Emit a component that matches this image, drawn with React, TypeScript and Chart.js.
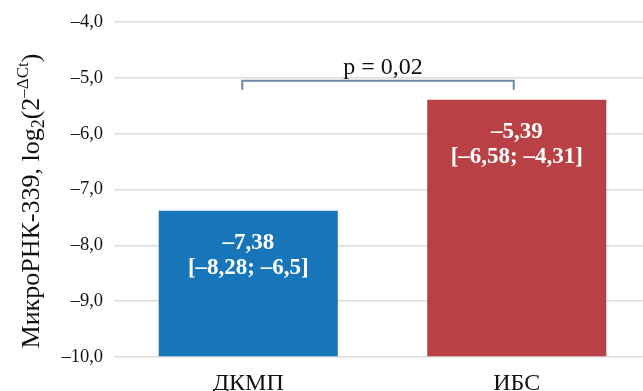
import React, { useEffect, useRef } from "react";
import { Chart, registerables } from "chart.js";

Chart.register(...registerables);

const categories = ["ДКМП", "ИБС"];
const medians = [-7.38, -5.39];
const lowerQ = ["–8,28", "–6,58"];
const upperQ = ["–6,5", "–4,31"];
const medianLabels = ["–7,38", "–5,39"];
const barColors = ["#1776b9", "#b94044"];
const yMin = -10;
const yMax = -4;
const pLabel = "p = 0,02";
const bracketTop = -5.05;
const bracketFoot = -5.21;

const SERIF = "'Liberation Serif', 'DejaVu Serif', serif";

const fmtTick = (v: number) => {
  const s = Math.abs(v).toFixed(1).replace(".", ",");
  return v < 0 ? "–" + s : s;
};

const annotations = {
  id: "annotations",
  afterDatasetsDraw(chart: any) {
    const { ctx, scales } = chart;
    const meta = chart.getDatasetMeta(0);
    const y = scales.y;
    ctx.save();
    // values inside bars
    ctx.fillStyle = "#ffffff";
    ctx.textAlign = "center";
    ctx.textBaseline = "middle";
    ctx.font = `bold 23px ${SERIF}`;
    meta.data.forEach((bar: any, i: number) => {
      const top = y.getPixelForValue(medians[i]);
      ctx.fillText(medianLabels[i], bar.x, top + 32);
      ctx.fillText(`[${lowerQ[i]}; ${upperQ[i]}]`, bar.x, top + 57);
    });

    // significance bracket
    const x1 = meta.data[0].x - 6;
    const x2 = meta.data[1].x - 3;
    const yt = y.getPixelForValue(bracketTop);
    const yf = y.getPixelForValue(bracketFoot);
    ctx.strokeStyle = "#6d87a8";
    ctx.lineWidth = 2;
    ctx.beginPath();
    ctx.moveTo(x1, yf);
    ctx.lineTo(x1, yt);
    ctx.lineTo(x2, yt);
    ctx.lineTo(x2, yf);
    ctx.stroke();
    ctx.fillStyle = "#111111";
    ctx.font = `24px ${SERIF}`;
    ctx.textBaseline = "alphabetic";
    ctx.fillText(pLabel, (x1 + x2) / 2 + 5, yt - 7);

    // axis title with sub/superscripts
    const cx = 39;
    const cy = 201;
    ctx.translate(cx, cy);
    ctx.rotate(-Math.PI / 2);
    ctx.textBaseline = "alphabetic";
    ctx.textAlign = "left";
    ctx.fillStyle = "#111111";
    const parts: [string, number, number][] = [
      ["МикроРНК-339, log", 26, 0],
      ["2", 18, 5],
      ["(2", 26, 0],
      ["–ΔCt", 17, -11],
      [")", 26, 0],
    ];
    let total = 0;
    parts.forEach(([t, s]) => {
      ctx.font = `${s}px ${SERIF}`;
      total += ctx.measureText(t).width;
    });
    let x = -total / 2;
    parts.forEach(([t, s, dy]) => {
      ctx.font = `${s}px ${SERIF}`;
      ctx.fillText(t, x, dy);
      x += ctx.measureText(t).width;
    });
    ctx.restore();
  },
};

export default function App() {
  const ref = useRef<HTMLCanvasElement>(null);
  useEffect(() => {
    if (!ref.current) return;
    const chart = new Chart(ref.current, {
      type: "bar",
      data: {
        labels: categories,
        datasets: [
          {
            data: medians,
            base: yMin,
            backgroundColor: barColors,
            borderWidth: 0,
            barPercentage: 0.667,
            categoryPercentage: 1,
          } as any,
        ],
      },
      options: {
        animation: false,
        responsive: true,
        maintainAspectRatio: false,
        layout: { padding: { top: 20, right: 0, bottom: 0, left: 0 } },
        plugins: { legend: { display: false }, tooltip: { enabled: false } },
        scales: {
          x: {
            grid: { display: false, drawTicks: false },
            border: { display: false },
            ticks: { color: "#111", font: { family: SERIF, size: 24 }, padding: 12 },
            afterFit: (s: any) => {
              s.height = 34;
            },
          },
          y: {
            min: yMin,
            max: yMax,
            border: { display: false },
            grid: { color: "#dcdcdc", lineWidth: 1.5, drawTicks: false },
            ticks: {
              stepSize: 1,
              color: "#111",
              font: { family: SERIF, size: 18.5 },
              padding: 11,
              callback: (v: any) => fmtTick(Number(v)),
            },
            afterFit: (s: any) => {
              s.width = 114;
            },
          },
        },
      },
      plugins: [annotations],
    });
    return () => chart.destroy();
  }, []);
  return (
    <div style={{ position: "fixed", left: 0, top: 0, width: 643, height: 391, overflow: "hidden", background: "#fff" }}>
      <div style={{ position: "absolute", left: 0, top: 0, width: 651, height: 391 }}>
        <canvas ref={ref} />
      </div>
    </div>
  );
}
